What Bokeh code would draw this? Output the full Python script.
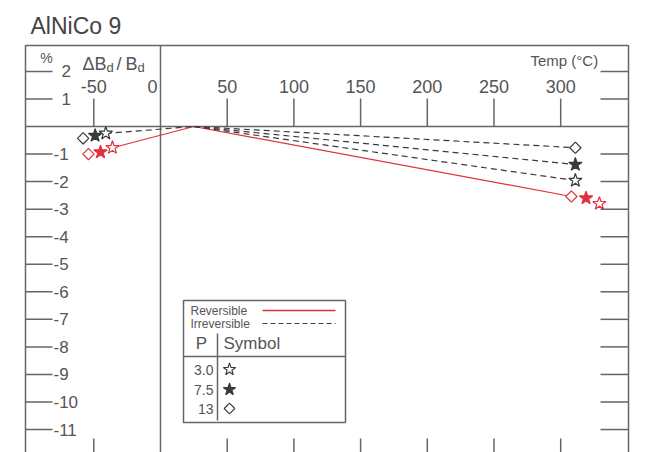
from bokeh.plotting import figure
from bokeh.models import Range1d
from bokeh.embed import file_html
from bokeh.resources import INLINE
from bokeh.core.properties import value

# ---------------- data ----------------
pressures = ["3.0", "7.5", "13"]
marker_kind = ["star", "star", "diamond"]
marker_filled = [False, True, False]

# reversible change (red), low-temperature and high-temperature points
rev_temp_low = [-36, -45, -54]
rev_val_low = [-0.77, -0.93, -1.00]
rev_temp_high = [329, 319, 308]
rev_val_high = [-2.80, -2.60, -2.54]

# irreversible change (black), low-temperature and high-temperature points
irr_temp_low = [-41, -49, -58]
irr_val_low = [-0.25, -0.33, -0.43]
irr_temp_high = [311, 311, 311]
irr_val_high = [-1.96, -1.38, -0.77]

# reference temperature (all curves pass through 0 here)
ref_temp = 25
ref_val = 0.0

# reversible curve drawn as one red line
rev_curve_temp = [-36, 25, 308]
rev_curve_val = [-0.77, 0.0, -2.54]

x_ticks = [-50, 50, 100, 150, 200, 250, 300]
x_tick_labels = ["-50", "50", "100", "150", "200", "250", "300"]
y_ticks = [2, 1, -1, -2, -3, -4, -5, -6, -7, -8, -9, -10, -11]
y_tick_labels = ["2", "1", "-1", "-2", "-3", "-4", "-5", "-6", "-7", "-8", "-9", "-10", "-11"]

title_text = "AlNiCo 9"

# ---------------- layout ----------------
W, H = 645, 452
PX0, PPX = 160.0, 1.334      # pixel of 0 degC, pixels per degC
PY0, PPY = 126.0, 27.55      # pixel of 0 %, pixels per %
XS, XE = (0 - PX0) / PPX, (W - PX0) / PPX
YS, YE = -(H - PY0) / PPY, PY0 / PPY

def dx(xp):
    return (xp - PX0) / PPX

def dy(yp):
    return (PY0 - yp) / PPY

# chart box (bottom runs off the page, as in the reference)
BL, BR, BT, BB = dx(25), dx(628), dy(45), dy(470)

FONT = "Liberation Sans"
GREY = "#666666"
TXT = "#555555"
RED = "#e0323c"
DARK = "#3a3a3a"

p = figure(width=W, height=H, output_backend="svg", toolbar_location=None,
           x_range=Range1d(XS, XE), y_range=Range1d(YS, YE),
           x_axis_location=None, y_axis_location=None,
           min_border=0, min_border_left=0, min_border_right=0,
           min_border_top=0, min_border_bottom=0,
           background_fill_color="white", border_fill_color="white",
           outline_line_color=None)
p.title = None
p.grid.visible = False

# box and zero lines
p.quad(left=[BL], right=[BR], top=[BT], bottom=[BB], fill_color=None,
       line_color=GREY, line_width=1.5)
p.segment(x0=[BL, 0], x1=[BR, 0], y0=[0, BB], y1=[0, BT], line_color=GREY, line_width=1.5)

# y ticks (left and right, inward) and labels
n = len(y_ticks)
p.segment(x0=[BL] * n, x1=[dx(52)] * n, y0=y_ticks, y1=y_ticks, line_color=GREY, line_width=1.5)
p.segment(x0=[dx(600)] * n, x1=[BR] * n, y0=y_ticks, y1=y_ticks, line_color=GREY, line_width=1.5)
p.text(x=[dx(53)] * n, y=y_ticks, text=y_tick_labels,
       x_offset=[8 if v > 0 else 0 for v in y_ticks],
       text_align="left", text_baseline="middle", text_font=value(FONT),
       text_font_size="17px", text_color=TXT)

# x ticks (top, hanging down to the zero line; bottom short) and labels
m = len(x_ticks)
p.segment(x0=x_ticks, x1=x_ticks, y0=[0] * m, y1=[dy(98)] * m, line_color=GREY, line_width=1.5)
p.segment(x0=x_ticks, x1=x_ticks, y0=[BB] * m, y1=[dy(438)] * m, line_color=GREY, line_width=1.5)
p.text(x=x_ticks, y=[dy(86)] * m, text=x_tick_labels, text_align="center",
       text_baseline="middle", text_font=value(FONT), text_font_size="18px", text_color=TXT)
p.text(x=[0], y=[dy(86)], text=["0"], x_offset=-3, text_align="right",
       text_baseline="middle", text_font=value(FONT), text_font_size="18px", text_color=TXT)

# axis captions
p.text(x=[dx(46)], y=[dy(57)], text=["%"], text_align="center", text_baseline="middle",
       text_font=value(FONT), text_font_size="14px", text_color=TXT)
p.text(x=[dx(82), dx(116), dx(125)], y=[dy(63)] * 3, text=["\u0394B", "/", "B"],
       text_align="left", text_baseline="middle", text_font=value(FONT),
       text_font_size="18px", text_color=TXT)
p.text(x=[dx(106), dx(137)], y=[dy(67)] * 2, text=["d", "d"],
       text_align="left", text_baseline="middle", text_font=value(FONT),
       text_font_size="13px", text_color=TXT)
p.text(x=[dx(530)], y=[dy(60)], text=["Temp (\u00b0C)"], text_align="left",
       text_baseline="middle", text_font=value(FONT), text_font_size="15px", text_color=TXT)

# title
p.text(x=[dx(30)], y=[dy(25)], text=[title_text], text_align="left",
       text_baseline="middle", text_font=value(FONT), text_font_size="23px",
       text_color="#444444")

# ---------------- curves ----------------
p.line(x=rev_curve_temp, y=rev_curve_val, line_color=RED, line_width=1.2)
p.line(x=[irr_temp_low[0], ref_temp], y=[irr_val_low[0], ref_val],
       line_color=DARK, line_width=1.2, line_dash="6 4")
for i in range(len(pressures)):
    p.line(x=[ref_temp, irr_temp_high[i]], y=[ref_val, irr_val_high[i]],
           line_color=DARK, line_width=1.2, line_dash="6 4")

# ---------------- markers ----------------
def marker_args(kind, big):
    if kind == "diamond":
        return dict(marker="square", angle=0.785398, size=8 if big else 7.5)
    return dict(marker="star", angle=0, size=14 if big else 13)

for i in range(len(pressures)):
    args = marker_args(marker_kind[i], True)
    # irreversible (black)
    p.scatter(x=[irr_temp_low[i], irr_temp_high[i]], y=[irr_val_low[i], irr_val_high[i]],
              line_color=DARK, line_width=1.2,
              fill_color=DARK if marker_filled[i] else "white", **args)
    # reversible (red)
    p.scatter(x=[rev_temp_low[i], rev_temp_high[i]], y=[rev_val_low[i], rev_val_high[i]],
              line_color=RED, line_width=1.2,
              fill_color=RED if marker_filled[i] else "white", **args)

# ---------------- legend box ----------------
p.quad(left=[dx(183)], right=[dx(345)], top=[dy(300)], bottom=[dy(422)],
       fill_color="white", line_color=GREY, line_width=1.5)
p.text(x=[dx(190)] * 2, y=[dy(310), dy(323)], text=["Reversible", "Irreversible"],
       text_align="left", text_baseline="middle", text_font=value(FONT),
       text_font_size="12px", text_color=TXT)
p.line(x=[dx(262), dx(335)], y=[dy(310)] * 2, line_color=RED, line_width=1.3)
p.line(x=[dx(262), dx(335)], y=[dy(323)] * 2, line_color=DARK, line_width=1.2, line_dash="5 3")
p.text(x=[dx(201)], y=[dy(343)], text=["P"], text_align="center", text_baseline="middle",
       text_font=value(FONT), text_font_size="17px", text_color=TXT)
p.text(x=[dx(223)], y=[dy(343)], text=["Symbol"], text_align="left", text_baseline="middle",
       text_font=value(FONT), text_font_size="17px", text_color=TXT)
p.line(x=[dx(183), dx(345)], y=[dy(356)] * 2, line_color=GREY, line_width=1.5)
p.line(x=[dx(217), dx(217)], y=[dy(333), dy(420)], line_color=GREY, line_width=1.5)
row_y = [dy(369), dy(389), dy(408)]
p.text(x=[dx(213)] * 3, y=row_y, text=pressures, text_align="right", text_baseline="middle",
       text_font=value(FONT), text_font_size="14px", text_color=TXT)
for i in range(len(pressures)):
    p.scatter(x=[dx(229)], y=[row_y[i]], line_color=DARK, line_width=1.1,
              fill_color=DARK if marker_filled[i] else "white",
              **marker_args(marker_kind[i], False))

open("out.html", "w").write(file_html(p, INLINE))
